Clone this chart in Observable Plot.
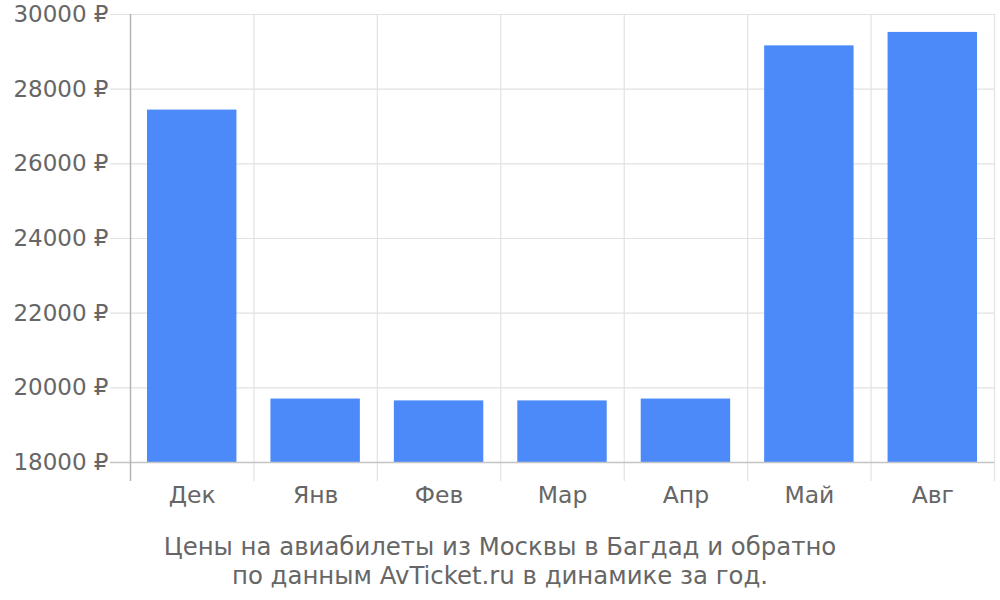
<!DOCTYPE html>
<html>
<head>
<meta charset="utf-8">
<script src="https://cdn.jsdelivr.net/npm/d3@7"></script>
<script src="https://cdn.jsdelivr.net/npm/@observablehq/plot@0.6"></script>
<style>
  html, body { margin: 0; padding: 0; background: #fff; }
  body { width: 1000px; height: 600px; overflow: hidden; font-family: "DejaVu Sans", sans-serif; }
  #caption { text-align: center; color: #666; font-size: 24.4px; line-height: 29px; margin-top: 12px; }
</style>
</head>
<body>
<div id="chart"></div>
<div id="caption">Цены на авиабилеты из Москвы в Багдад и обратно<br>по данным AvTicket.ru в динамике за год.</div>
<script>
const months = ["Дек", "Янв", "Фев", "Мар", "Апр", "Май", "Авг"];
const prices = [27440, 19700, 19650, 19650, 19700, 29160, 29520];
const yTicks = [18000, 20000, 22000, 24000, 26000, 28000, 30000];
const currency = " ₽";

const data = months.map((m, i) => ({month: m, index: i, price: prices[i]}));
const bounds = d3.range(months.length + 1);
const centers = months.map((m, i) => i + 0.5);

const chart = Plot.plot({
  width: 1000,
  height: 520,
  marginLeft: 130,
  marginRight: 6,
  marginTop: 14,
  marginBottom: 58,
  style: {fontFamily: "DejaVu Sans, sans-serif", fontSize: "23px", color: "#666", background: "#fff"},
  x: {type: "linear", domain: [0, months.length]},
  y: {domain: [18000, 30000]},
  marks: [
    Plot.ruleY(yTicks.slice(1), {y: d => d, stroke: "#e2e2e2", strokeWidth: 1.2, insetLeft: -20}),
    Plot.ruleX(bounds.slice(1), {x: d => d, stroke: "#e2e2e2", strokeWidth: 1.2, insetBottom: -19}),
    Plot.rectY(data, {x1: "index", x2: d => d.index + 1, y1: 18000, y2: "price", fill: "#4d8af9", insetLeft: 17, insetRight: 17}),
    Plot.ruleY([18000], {stroke: "#c4c4c4", strokeWidth: 1.5, insetLeft: -20}),
    Plot.ruleX([0], {stroke: "#b4b4b4", strokeWidth: 1.5, insetBottom: -19}),
    Plot.axisY({ticks: yTicks, tickFormat: d => d + currency, tickSize: 0, tickPadding: 22, label: null, fill: "#666", fontSize: 23}),
    Plot.axisX({ticks: centers, tickFormat: d => months[Math.floor(d)], tickSize: 0, tickPadding: 24, label: null, fill: "#666", fontSize: 23.5})
  ]
});
document.getElementById("chart").appendChild(chart);
</script>
</body>
</html>
